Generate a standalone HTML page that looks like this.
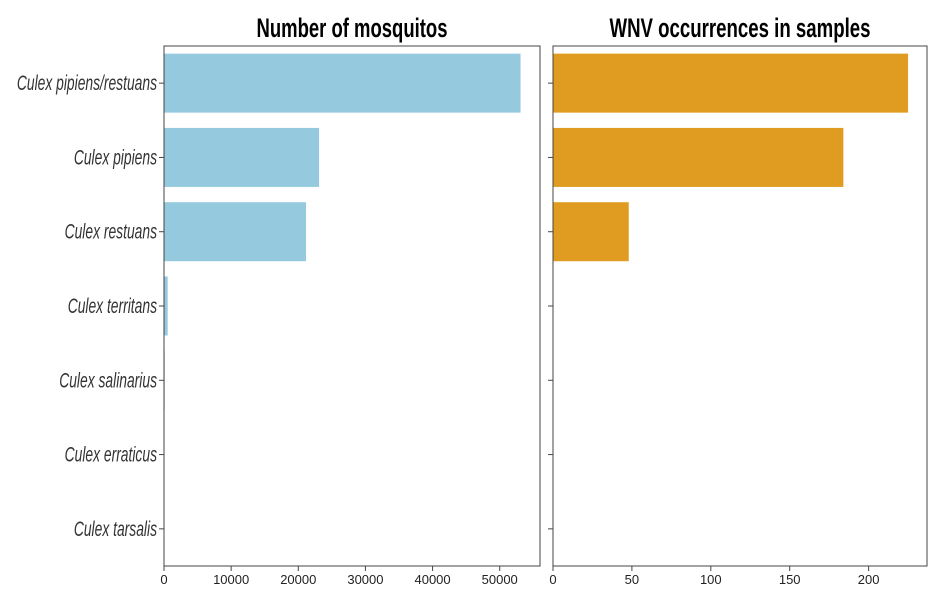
<!DOCTYPE html>
<html><head><meta charset="utf-8"><style>
body{margin:0;background:#fff}
svg{display:block;font-family:"Liberation Sans",sans-serif}
</style></head><body>
<svg id="c" width="936" height="598" xmlns="http://www.w3.org/2000/svg"></svg>
<script>
const species=["Culex pipiens/restuans","Culex pipiens","Culex restuans","Culex territans","Culex salinarius","Culex erraticus","Culex tarsalis"];
const mosquitoCounts=[53100,23100,21150,550,100,30,5];
const wnvCounts=[225,184,48,0,0,0,0];
const leftTicks=[0,10000,20000,30000,40000,50000];
const rightTicks=[0,50,100,150,200];
const NS="http://www.w3.org/2000/svg";
const svg=document.getElementById('c');
function el(t,a,p){const e=document.createElementNS(NS,t);for(const k in a)e.setAttribute(k,a[k]);(p||svg).appendChild(e);return e;}
const plotTop=46,plotBot=566,band=(plotBot-plotTop)/species.length;
function yC(i){return plotTop+band*(i+0.5);}
function panel(x0,x1,maxV,vals,ticks,color,title,titleLen,name,showLabels){
  const g=el('g',{});
  
  
  const xs=v=>x0+(x1-x0)*v/maxV;
  vals.forEach((v,i)=>{
    const r=el('rect',{x:x0,y:yC(i)-29.5,width:Math.max(0,xs(v)-x0),height:59,fill:color},g);
    
    
  });
  el('rect',{x:x0,y:plotTop,width:x1-x0,height:plotBot-plotTop,fill:'none',stroke:'#444','stroke-width':1},g);
  ticks.forEach(t=>{
    const x=xs(t);
    el('line',{x1:x,x2:x,y1:plotBot,y2:plotBot+5,stroke:'#444'},g);
    const tx=el('text',{x:x,y:plotBot+18,'text-anchor':'middle','font-size':13,fill:'#222'},g);
    tx.textContent=t;
    
    
  });
  species.forEach((s,i)=>{
    el('line',{x1:x0-5,x2:x0,y1:yC(i),y2:yC(i),stroke:'#444'},g);
    if(showLabels){
      const tx=el('text',{transform:`translate(${x0-7},${yC(i)+7}) scale(0.66,1)`,'text-anchor':'end','font-size':21,'font-style':'italic',fill:'#333'},g);
      tx.textContent=s;
      
      
    }
  });
  const tt=el('text',{x:(x0+x1)/2-titleLen/2,y:37,'font-size':27,'font-weight':'bold',textLength:titleLen,lengthAdjust:'spacingAndGlyphs',fill:'#000'},g);
  tt.textContent=title;
  
  
}
panel(164,540,56000,mosquitoCounts,leftTicks,'#95c9de','Number of mosquitos',191,'mosquitos',true);
panel(553,927,237,wnvCounts,rightTicks,'#e09c21','WNV occurrences in samples',261,'wnv',false);
</script>
</body></html>
